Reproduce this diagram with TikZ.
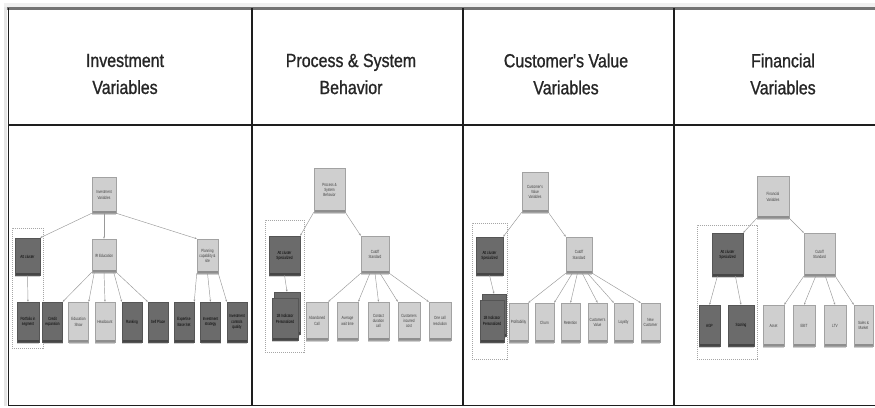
\documentclass[tikz,border=0pt]{standalone}
\usepackage{fontspec}
\setmainfont{Liberation Sans}
\newfontfamily\headfont{Liberation Sans}[FakeStretch=0.84,FakeBold=1]
\newfontfamily\boxfont{Liberation Sans}[FakeStretch=0.7]
\usetikzlibrary{shadows,arrows.meta}

\definecolor{lightfill}{HTML}{CFCFCF}
\definecolor{lightedge}{HTML}{A2A2A2}
\definecolor{lightbase}{HTML}{8E8E8E}
\definecolor{darkfill}{HTML}{6B6B6B}
\definecolor{darkedge}{HTML}{555555}
\definecolor{darkbase}{HTML}{464646}
\definecolor{rulecol}{HTML}{1E1E1E}

\tikzset{
  head/.style={font=\headfont\fontsize{19}{27}\selectfont, text=black!85,
    align=center, inner sep=0pt},
  box/.style={draw, line width=0.5pt, inner sep=0.5pt, align=center,
    font=\boxfont\fontsize{4.5}{5.3}\selectfont,
    drop shadow={shadow xshift=0pt, shadow yshift=-1.6pt, fill=black!30, opacity=0.6}},
  lightbox/.style={box, fill=lightfill, draw=lightedge, text=black!75,
    path picture={\fill[lightbase] (path picture bounding box.south west)
      rectangle ([yshift=2.5pt]path picture bounding box.south east);}},
  darkbox/.style={box, fill=darkfill, draw=darkedge, text=black,
    path picture={\fill[darkbase] (path picture bounding box.south west)
      rectangle ([yshift=2.5pt]path picture bounding box.south east);}},
  group/.style={draw=black!35, dashed, dash pattern=on 1.2pt off 0.8pt,
    line width=0.5pt, inner sep=0pt},
  conn/.style={draw=black!40, line width=0.45pt,
    -{Stealth[length=2.2pt,width=1.8pt]}},
  sz/.style 2 args={minimum width=#1pt, minimum height=#2pt},
}

\begin{document}
\begin{tikzpicture}[x=1pt, y=-1pt]
\useasboundingbox (0,0) rectangle (875,407);
\fill[white] (0,0) rectangle (875,407);

% --- table frame ---------------------------------------------------------
\fill[black!6] (4,3) rectangle (875,7);
\fill[black!10] (4,7) rectangle (7,406);
\draw[black!55, line width=2.6pt] (7,8.6) -- (875,8.6);
\draw[rulecol, line width=1.6pt] (8.5,8) -- (8.5,406);
\draw[rulecol, line width=2.4pt] (8,125) -- (875,125);
\draw[rulecol, line width=1.8pt] (8,405.5) -- (875,405.5);
\foreach \cx in {252,463,674}
  \draw[rulecol, line width=1.6pt] (\cx,8) -- (\cx,406);

% --- column headings -----------------------------------------------------
\node[head] (h1) at (125,74) {Investment\\Variables};
\node[head] (h2) at (351,74) {Process \& System\\Behavior};
\node[head] (h3) at (566,74) {Customer's Value\\Variables};
\node[head] (h4) at (783,74) {Financial\\Variables};

% --- Investment variables --------------------------------------------------
\node[group, sz={31}{120}] (g1) at (27.5,288) {};
\node[lightbox, sz={24}{36}] (r1) at (104,195) {Investment\\Variables};
\node[darkbox, sz={25}{37}] (a1) at (27.5,256.5) {Att cluster};
\node[lightbox, sz={24}{33}] (e1) at (104,255.5) {IR Education};
\node[lightbox, sz={21}{34}] (p1) at (207.5,256) {Planning\\capability \&\\site};
\node[darkbox, sz={22}{40}] (l11) at (28,322) {Portfolio in\\segment};
\node[darkbox, sz={20}{40}] (l12) at (52.5,322) {Credit\\expansion};
\node[lightbox, sz={20}{40}] (l13) at (78.5,322) {Education\\Show};
\node[lightbox, sz={20}{40}] (l14) at (105,322) {Headcount};
\node[darkbox, sz={20}{40}] (l15) at (132,322) {Ranking};
\node[darkbox, sz={20}{40}] (l16) at (158,322) {Self Place};
\node[darkbox, sz={20}{40}] (l17) at (184,322) {Expertise\\Base Set};
\node[darkbox, sz={20}{40}] (l18) at (210.5,322) {Investment\\strategy};
\node[darkbox, sz={20}{40}] (l19) at (237,322) {Investment\\controls\\quality};

\draw[conn] (r1.south west) -- (a1.north east);
\draw[conn] (r1.south) -- (e1.north);
\draw[conn] (r1.south east) -- (p1.north west);
\draw[conn] (a1.south) -- (l11.north);
\draw[conn] (e1.south west) -- (l12.north east);
\draw[conn] (e1.-120) -- (l13.north east);
\draw[conn] (e1.south) -- (l14.north);
\draw[conn] (e1.-60) -- (l15.north west);
\draw[conn] (e1.south east) -- (l16.north west);
\draw[conn] (p1.south west) -- (l17.north east);
\draw[conn] (p1.south) -- (l18.north);
\draw[conn] (p1.south east) -- (l19.north west);

% --- Process & system behaviour -------------------------------------------
\node[group, sz={39}{132}] (g2) at (284.5,286) {};
\node[lightbox, sz={31}{44}] (r2) at (329.5,190) {Process \&\\System\\Behavior};
\node[darkbox, sz={31}{39}] (a2) at (284.5,255.5) {Att cluster\\Specialized};
\node[darkbox, sz={26}{42}] (l21b) at (287,313) {};
\node[darkbox, sz={26}{42}] (l21) at (285,319) {1B Indicator\\Personalized};
\node[lightbox, sz={28}{37}] (c2) at (375,254.5) {Cutoff\\Standard};
\node[lightbox, sz={22}{38}] (l22) at (317,321) {Abandoned\\Call};
\node[lightbox, sz={21}{38}] (l23) at (347.5,321) {Average\\wait time};
\node[lightbox, sz={21}{38}] (l24) at (378.5,321) {Contact\\duration\\call};
\node[lightbox, sz={22}{38}] (l25) at (409,321) {Customers\\incurred\\cost};
\node[lightbox, sz={22}{38}] (l26) at (440,321) {One call\\resolution};

\draw[conn] (r2.south west) -- (a2.north east);
\draw[conn] (r2.south east) -- (c2.north west);
\draw[conn] (a2.south) -- (l21b.north);
\draw[conn] (c2.south west) -- (l22.north east);
\draw[conn] (c2.-105) -- (l23.north east);
\draw[conn] (c2.south) -- (l24.north);
\draw[conn] (c2.-75) -- (l25.north west);
\draw[conn] (c2.south east) -- (l26.north west);

% --- Customer's value variables -------------------------------------------
\node[group, sz={35}{136}] (g3) at (489.5,291) {};
\node[lightbox, sz={26}{40}] (r3) at (535,192) {Customer's\\Value\\Variables};
\node[darkbox, sz={27}{38}] (a3) at (489.5,256) {Att cluster\\Specialized};
\node[darkbox, sz={24}{42}] (l31b) at (494,315) {};
\node[darkbox, sz={24}{42}] (l31) at (492,321) {1B Indicator\\Personalized};
\node[lightbox, sz={26}{36}] (c3) at (579,255) {Cutoff\\Standard};
\node[lightbox, sz={19}{39}] (l32) at (518.5,322.5) {Profitability};
\node[lightbox, sz={19}{39}] (l33) at (544.5,322.5) {Churn};
\node[lightbox, sz={19}{39}] (l34) at (570.5,322.5) {Retention};
\node[lightbox, sz={19}{39}] (l35) at (597.5,322.5) {Customer's\\Value};
\node[lightbox, sz={19}{39}] (l36) at (623.5,322.5) {Loyalty};
\node[lightbox, sz={19}{39}] (l37) at (650.5,322.5) {New\\Customer};

\draw[conn] (r3.south west) -- (a3.north east);
\draw[conn] (r3.south east) -- (c3.north west);
\draw[conn] (a3.south) -- (l31b.north);
\draw[conn] (c3.south west) -- (l32.north east);
\draw[conn] (c3.-110) -- (l33.north east);
\draw[conn] (c3.-95) -- (l34.north);
\draw[conn] (c3.-80) -- (l35.north);
\draw[conn] (c3.-65) -- (l36.north west);
\draw[conn] (c3.south east) -- (l37.north west);

% --- Financial variables ---------------------------------------------------
\node[group, sz={60}{134}] (g4) at (727,292) {};
\node[lightbox, sz={32}{42}] (r4) at (773,197) {Financial\\Variables};
\node[darkbox, sz={31}{43}] (a4) at (727.5,254.5) {Att cluster\\Specialized};
\node[lightbox, sz={31}{43}] (c4) at (819.5,254.5) {Cutoff\\Standard};
\node[darkbox, sz={21}{41}] (l41) at (709.5,325.5) {AGP};
\node[darkbox, sz={26}{41}] (l42) at (741,325.5) {Scoring};
\node[lightbox, sz={21}{41}] (l43) at (773.5,325.5) {Asset};
\node[lightbox, sz={22}{41}] (l44) at (804,325.5) {EBIT};
\node[lightbox, sz={22}{41}] (l45) at (835,325.5) {LTV};
\node[lightbox, sz={19}{41}] (l46) at (863.5,325.5) {Sales \&\\Market};

\draw[conn] (r4.south west) -- (a4.north east);
\draw[conn] (r4.south east) -- (c4.north west);
\draw[conn] (a4.-115) -- (l41.north);
\draw[conn] (a4.-70) -- (l42.north);
\draw[conn] (c4.south west) -- (l43.north east);
\draw[conn] (c4.-100) -- (l44.north);
\draw[conn] (c4.-75) -- (l45.north);
\draw[conn] (c4.south east) -- (l46.north west);
\end{tikzpicture}
\end{document}
